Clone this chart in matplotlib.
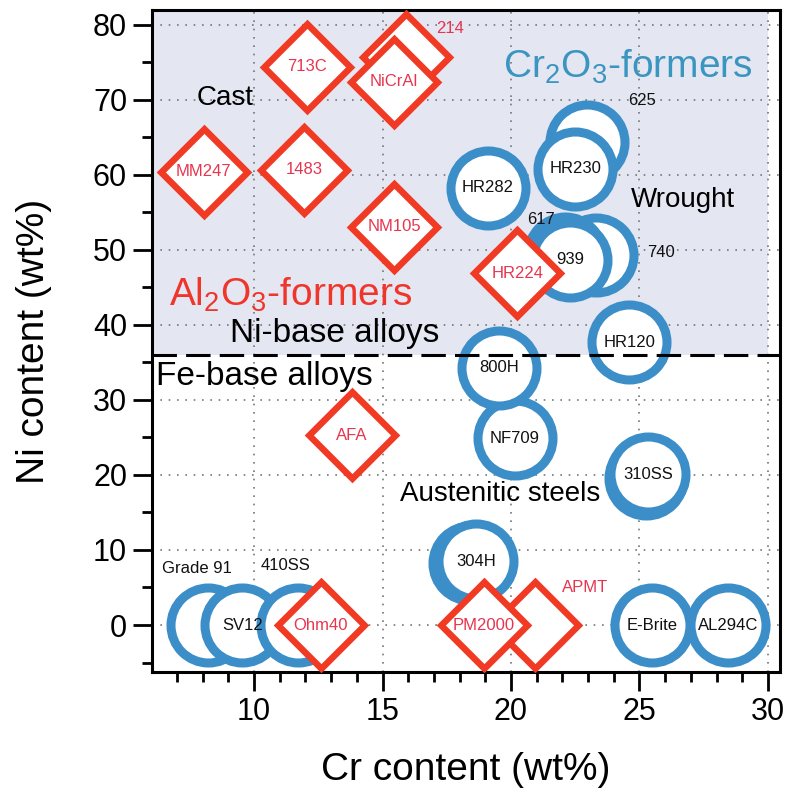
import numpy as np
import matplotlib
matplotlib.use('Agg')
import matplotlib.pyplot as plt
from matplotlib.ticker import MultipleLocator

plt.rcParams['font.family'] = ['Liberation Sans', 'DejaVu Sans']
plt.rcParams['mathtext.default'] = 'regular'

# chromia formers (circles), drawn in this order
cr2o3_names = ['Grade 91', 'SV12', '410SS', 'E-Brite', 'AL294C',
               '', '304H', '', '310SS', 'NF709', '800H', 'HR120',
               '740', '617', '939', '625', 'HR230', 'HR282']
cr2o3_cr = [8.2, 9.55, 11.7, 25.5, 28.45,
            18.4, 18.65, 25.25, 25.35, 20.15, 19.55, 24.6,
            23.3, 22.1, 22.3, 22.95, 22.5, 19.1]
cr2o3_ni = [0, 0, 0, 0, 0,
            8.3, 8.5, 19.6, 20.1, 24.9, 34.3, 37.7,
            49.3, 49.5, 48.7, 64.4, 60.8, 58.3]

# alumina formers (diamonds)
al2o3_names = ['214', 'NiCrAl', '713C', 'MM247', '1483', 'NM105',
               'HR224', 'AFA', 'Ohm40', 'APMT', 'PM2000']
al2o3_cr = [15.9, 15.45, 12.05, 8.05, 11.95, 15.45,
            20.25, 13.8, 12.6, 20.95, 18.95]
al2o3_ni = [75.7, 72.4, 74.4, 60.4, 60.7, 53.1,
            46.9, 25.3, 0, 0, 0]

ni_fe_boundary = 36

# labels that sit beside their marker (offset in points)
label_offsets = {'Grade 91': (-8, 41), '410SS': (-9, 43), '625': (40, 30),
                 '617': (-17, 25), '740': (47, 2), '214': (32, 21),
                 'APMT': (36, 27)}

blue = '#3b8ec8'
red = '#f03a24'
red_text = '#e8354f'

fig = plt.figure(figsize=(7.86, 7.97), dpi=100)
ax = fig.add_axes([0.1934, 0.1568, 0.799, 0.8307])
xlo, xhi = 6.03, 30.47
ylo, yhi = -6.27, 82
ax.set_xlim(xlo, xhi)
ax.set_ylim(ylo, yhi)

# Ni-base region shading and boundary
ax.fill_between([xlo, 30], ni_fe_boundary, yhi, color='#e4e6f2', lw=0, zorder=0.2)
ax.axhline(ni_fe_boundary, color='k', lw=2.2, ls=(0, (8, 3)), zorder=6)

ax.scatter(cr2o3_cr, cr2o3_ni, s=54**2, marker='o', facecolor='white',
           edgecolor=blue, linewidths=6.5, zorder=3)
ax.scatter(al2o3_cr, al2o3_ni, s=44**2, marker='D', facecolor='white',
           edgecolor=red, linewidths=4.7, joinstyle='miter', zorder=4)

for name, x, y in zip(cr2o3_names, cr2o3_cr, cr2o3_ni):
    if not name:
        continue
    ax.annotate(name, (x, y), xytext=label_offsets.get(name, (0, 0)),
                textcoords='offset points', ha='center', va='center',
                fontsize=12, color='#111111', zorder=7)
for name, x, y in zip(al2o3_names, al2o3_cr, al2o3_ni):
    ax.annotate(name, (x, y), xytext=label_offsets.get(name, (0, 0)),
                textcoords='offset points', ha='center', va='center',
                fontsize=12, color=red_text, zorder=7)

# region text
ax.text(8.87, 70.3, 'Cast', fontsize=20, ha='center', va='center', zorder=7)
ax.text(26.7, 56.7, 'Wrought', fontsize=20, ha='center', va='center', zorder=7)
ax.text(24.55, 74.4, 'Cr$_2$O$_3$-formers', fontsize=28, color='#3a95c0',
        ha='center', va='center', zorder=7)
ax.text(11.44, 44.0, 'Al$_2$O$_3$-formers', fontsize=28, color='#f0352a',
        ha='center', va='center', zorder=7)
ax.text(13.15, 38.9, 'Ni-base alloys', fontsize=24, ha='center', va='center', zorder=7)
ax.text(10.4, 33.1, 'Fe-base alloys', fontsize=24, ha='center', va='center', zorder=7)
ax.text(19.57, 17.5, 'Austenitic steels', fontsize=20, ha='center', va='center', zorder=7)

# axes styling
ax.xaxis.set_major_locator(MultipleLocator(5))
ax.xaxis.set_minor_locator(MultipleLocator(1))
ax.yaxis.set_major_locator(MultipleLocator(10))
ax.yaxis.set_minor_locator(MultipleLocator(5))
ax.tick_params(which='major', length=14, width=2, labelsize=22, direction='out', pad=4)
ax.tick_params(which='minor', length=7, width=2, direction='out')
for sp in ax.spines.values():
    sp.set_linewidth(2.2)
ax.grid(True, which='major', color='#777777', lw=1.2, ls=(0, (1, 4)))
ax.set_axisbelow(True)

ax.set_xlabel('Cr content (wt%)', fontsize=28, va='center')
ax.set_ylabel('Ni content (wt%)', fontsize=28, va='center')
ax.xaxis.set_label_coords(0.5, -0.148)
ax.yaxis.set_label_coords(-0.188, 0.5)

fig.savefig('out.png', dpi=100)
